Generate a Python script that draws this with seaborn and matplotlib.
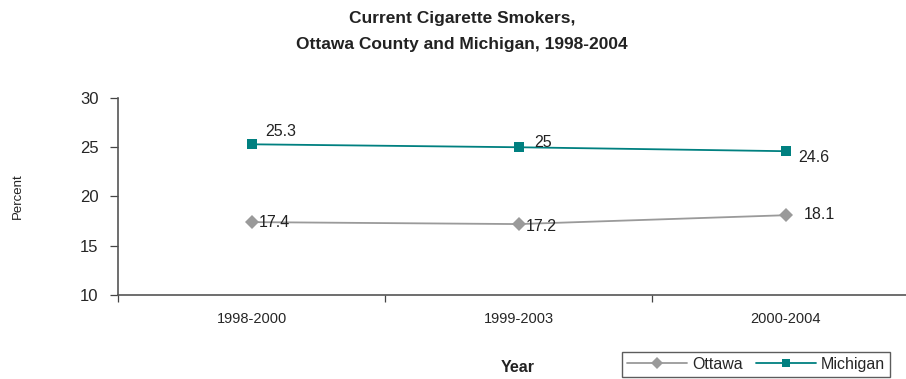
import pandas as pd
import numpy as np
import matplotlib
matplotlib.use("Agg")
import matplotlib.pyplot as plt
import seaborn as sns
from matplotlib.lines import Line2D

periods = ["1998-2000", "1999-2003", "2000-2004"]
ottawa = [17.4, 17.2, 18.1]
michigan = [25.3, 25.0, 24.6]
series_names = ["Ottawa", "Michigan"]

df = pd.DataFrame({
    "Year": periods * 2,
    "Percent": ottawa + michigan,
    "Area": [series_names[0]] * 3 + [series_names[1]] * 3,
})

sns.set_style("white")
plt.rcParams["font.family"] = ["Liberation Sans", "DejaVu Sans"]

fig = plt.figure(figsize=(9.06, 3.79), dpi=100)
ax = fig.add_axes([118 / 906, 1 - 295 / 379, (919 - 118) / 906, (295 - 98) / 379])

sns.lineplot(
    data=df, x="Year", y="Percent", hue="Area", style="Area",
    markers={"Ottawa": "D", "Michigan": "s"}, dashes=False,
    palette={"Ottawa": "#9a9a9a", "Michigan": "#008080"},
    markersize=7, linewidth=1.3, markeredgewidth=0, ax=ax, legend=False,
)

ax.set_xlim(-0.5, 2.5)
ax.set_ylim(10, 30)
ax.set_yticks([10, 15, 20, 25, 30])
ax.set_xticks(range(len(periods)))
ax.set_xticklabels(periods, fontsize=10.5)
ax.set_xticks([-0.5, 0.5, 1.5, 2.5], minor=True)
ax.tick_params(axis="both", which="both", left=True, bottom=True)
ax.tick_params(axis="x", which="major", length=0, pad=12)
ax.tick_params(axis="x", which="minor", length=5, width=0.9, color="#444444", direction="out")
ax.tick_params(axis="y", length=6, width=0.9, color="#444444", direction="out", labelsize=12, pad=8)
for s in ["top", "right"]:
    ax.spines[s].set_visible(False)
for s in ["left", "bottom"]:
    ax.spines[s].set_color("#555555")
    ax.spines[s].set_linewidth(1.2)
ax.set_xlabel("")
ax.set_ylabel("")

# data labels
offsets_m = [(10, 4), (11, -2), (9, 1)]
offsets_o = [(5, -6), (5, -7), (13, -5)]
for i, v in enumerate(michigan):
    ax.annotate(f"{v:g}", (i, v), xytext=offsets_m[i], textcoords="offset points",
                fontsize=11.5, ha="left", va="bottom" if i < 2 else "top", color="#222222")
for i, v in enumerate(ottawa):
    ax.annotate(f"{v:g}", (i, v), xytext=offsets_o[i], textcoords="offset points",
                fontsize=11.5, ha="left", va="bottom", color="#222222")

fig.text(462 / 906, 1 - 18 / 379, "Current Cigarette Smokers,", ha="center", va="center",
         fontsize=12.5, fontweight="bold", color="#222222")
fig.text(462 / 906, 1 - 45 / 379, "Ottawa County and Michigan, 1998-2004", ha="center", va="center",
         fontsize=12.5, fontweight="bold", color="#222222")
fig.text(18 / 906, 1 - 196 / 379, "Percent", rotation=90, ha="center", va="center", fontsize=9.5,
         color="#222222")
fig.text(518 / 906, 1 - 368 / 379, "Year", ha="center", va="center", fontsize=11.5,
         fontweight="bold", color="#222222")

handles = [
    Line2D([0], [0], color="#9a9a9a", marker="D", markersize=6, markeredgewidth=0, linewidth=1.3),
    Line2D([0], [0], color="#008080", marker="s", markersize=6, markeredgewidth=0, linewidth=1.3),
]
leg = fig.legend(handles, ["Ottawa", "Michigan"], loc="upper left",
                 bbox_to_anchor=(622 / 906, 1 - 352 / 379), ncol=2, fontsize=11.5,
                 frameon=True, fancybox=False, handlelength=3.8, columnspacing=0.8,
                 handletextpad=0.3, borderpad=0.3, borderaxespad=0)
leg.get_frame().set_edgecolor("#333333")
leg.get_frame().set_linewidth(1.0)

fig.savefig("out.png", dpi=100)
